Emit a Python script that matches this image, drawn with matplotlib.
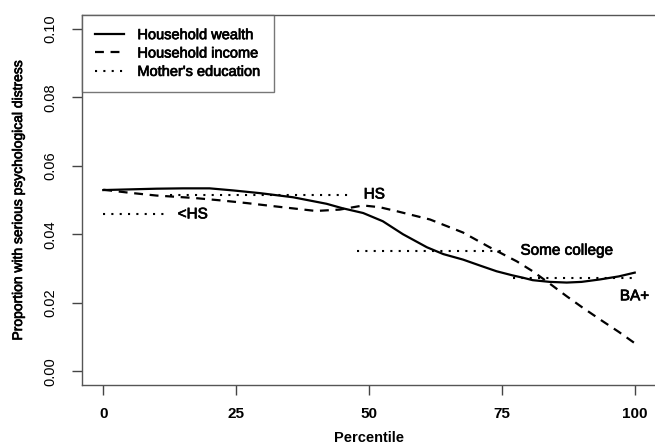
import matplotlib
matplotlib.use('Agg')
import matplotlib.pyplot as plt
import matplotlib.patheffects as pe

plt.rcParams['font.family'] = ['Liberation Sans', 'DejaVu Sans']

# Household wealth (solid)
wealth_x = [0, 5, 10, 15, 20, 24.4, 29.5, 35.7, 42, 45, 48.9, 52.6, 56.4, 60.9,
            64, 67.7, 71, 74, 77, 79, 80.8, 84, 87.2, 90, 93.4, 97, 100]
wealth_y = [0.0529, 0.0531, 0.0533, 0.0534, 0.0534, 0.0528, 0.0520, 0.0508, 0.0489,
            0.0476, 0.0462, 0.0438, 0.0400, 0.0362, 0.0342, 0.0326, 0.0308, 0.0292,
            0.0280, 0.0273, 0.0266, 0.0261, 0.0259, 0.0261, 0.0268, 0.0277, 0.0288]

# Household income (dashed)
income_x = [0, 5, 10, 17, 22, 27, 32, 36, 40, 44.5, 48.9, 52, 55.3, 61.5, 67.7,
            72.7, 77.8, 80.8, 84, 87.2, 90, 93.4, 97, 100]
income_y = [0.0530, 0.0521, 0.0513, 0.0506, 0.0499, 0.0491, 0.0482, 0.0475, 0.0468,
            0.0472, 0.0484, 0.0479, 0.0467, 0.0443, 0.0405, 0.0362, 0.0321, 0.0292,
            0.0256, 0.0219, 0.0188, 0.0152, 0.0115, 0.0082]

# Mother's education (dotted steps)
edu_labels = ['<HS', 'HS', 'Some college', 'BA+']
edu_start = [0, 12.5, 47.7, 77]
edu_end = [12.2, 46.8, 76, 99.5]
edu_level = [0.0458, 0.0516, 0.0352, 0.0273]
edu_label_x = [14, 49, 78.5, 97.2]
edu_label_y = [0.0458, 0.0516, 0.0352, 0.0219]

x_ticks = [0, 25, 50, 75, 100]
y_ticks = [0.00, 0.02, 0.04, 0.06, 0.08, 0.10]

heavy = [pe.withStroke(linewidth=0.5, foreground='black')]

fig = plt.figure(figsize=(6.55, 4.45), dpi=100)
ax = fig.add_axes([82/655, 60/445, 574/655, 370/445])

ax.plot(wealth_x, wealth_y, color='black', lw=1.6, label='Household wealth')
ax.plot(income_x, income_y, color='black', lw=1.6, linestyle=(0, (4, 3)),
        label='Household income')
for i in range(len(edu_labels)):
    ax.plot([edu_start[i], edu_end[i]], [edu_level[i], edu_level[i]], color='black',
            lw=1.5, linestyle=(0, (1, 3)), label="Mother's education" if i == 0 else None)
    ax.text(edu_label_x[i], edu_label_y[i], edu_labels[i], ha='left', va='center',
            fontsize=11, path_effects=heavy)

ax.set_xlim(-4, 104)
ax.set_ylim(-0.004, 0.104)
ax.set_xticks(x_ticks)
ax.set_xticklabels([str(t) for t in x_ticks], fontsize=11, fontweight='bold')
ax.set_yticks(y_ticks)
ax.set_yticklabels([f'{t:.2f}' for t in y_ticks], fontsize=10.5, rotation=90, va='center')
ax.tick_params(axis='both', direction='out', length=7, width=1, color='#444')
ax.tick_params(axis='x', pad=9)
ax.tick_params(axis='y', pad=11)
for s in ax.spines.values():
    s.set_color('#555')
    s.set_linewidth(1.0)

ax.set_xlabel('Percentile', fontsize=10.5, fontweight='bold', labelpad=7)
fig.text(18/655, 1 - 200/445, 'Proportion with serious psychological distress',
         rotation=90, ha='center', va='center', fontsize=10, path_effects=heavy)

leg = ax.legend(loc='upper left', fontsize=10.5, frameon=True, fancybox=False,
                borderaxespad=0, borderpad=0.9, labelspacing=0.3, handlelength=2.0,
                handletextpad=0.9)
leg.get_frame().set_edgecolor('#555')
leg.get_frame().set_linewidth(1.0)
for t in leg.get_texts():
    t.set_path_effects(heavy)

plt.savefig('out.png', dpi=100)
